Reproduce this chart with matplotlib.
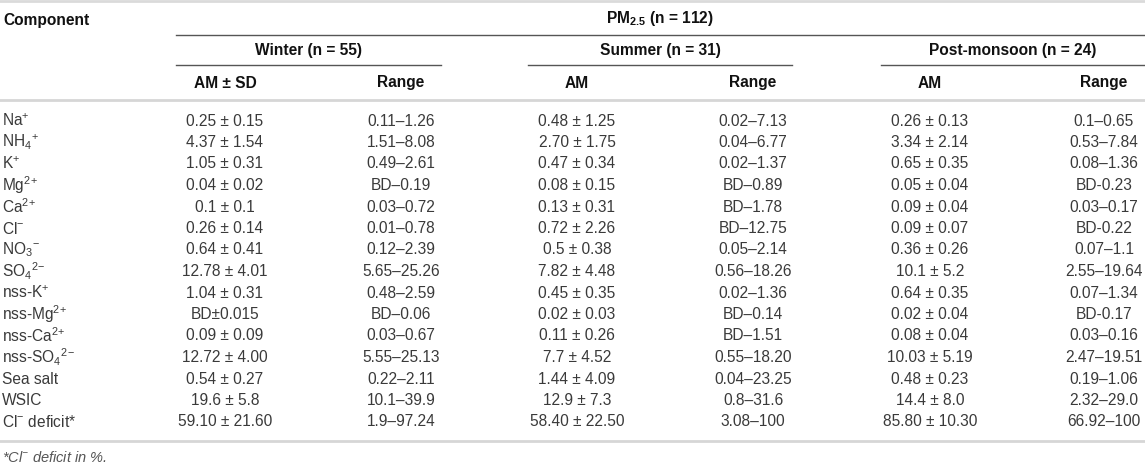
import matplotlib.pyplot as plt

plt.rcParams['font.family'] = ['Liberation Sans', 'DejaVu Sans']
plt.rcParams['mathtext.fontset'] = 'custom'
plt.rcParams['mathtext.rm'] = 'Liberation Sans'
plt.rcParams['mathtext.it'] = 'Liberation Sans:italic'
plt.rcParams['mathtext.bf'] = 'Liberation Sans:bold'
plt.rcParams['mathtext.default'] = 'regular'

# table content
components = ['Na$^{+}$', 'NH$_4$$^{+}$', 'K$^{+}$', 'Mg$^{2}$$^{+}$', 'Ca$^{2}$$^{+}$', 'Cl$^{-}$',
              'NO$_3$$^{-}$', 'SO$_4$$^{2}$$^{-}$', 'nss-K$^{+}$', 'nss-Mg$^{2}$$^{+}$',
              'nss-Ca$^{2}$$^{+}$', 'nss-SO$_4$$^{2}$$^{-}$', 'Sea salt', 'WSIC', 'Cl$^{-}$ deficit*']
winter_am = ['0.25 ± 0.15', '4.37 ± 1.54', '1.05 ± 0.31', '0.04 ± 0.02', '0.1 ± 0.1',
             '0.26 ± 0.14', '0.64 ± 0.41', '12.78 ± 4.01', '1.04 ± 0.31', 'BD±0.015',
             '0.09 ± 0.09', '12.72 ± 4.00', '0.54 ± 0.27', '19.6 ± 5.8', '59.10 ± 21.60']
winter_range = ['0.11–1.26', '1.51–8.08', '0.49–2.61', 'BD–0.19', '0.03–0.72', '0.01–0.78',
                '0.12–2.39', '5.65–25.26', '0.48–2.59', 'BD–0.06', '0.03–0.67', '5.55–25.13',
                '0.22–2.11', '10.1–39.9', '1.9–97.24']
summer_am = ['0.48 ± 1.25', '2.70 ± 1.75', '0.47 ± 0.34', '0.08 ± 0.15', '0.13 ± 0.31',
             '0.72 ± 2.26', '0.5 ± 0.38', '7.82 ± 4.48', '0.45 ± 0.35', '0.02 ± 0.03',
             '0.11 ± 0.26', '7.7 ± 4.52', '1.44 ± 4.09', '12.9 ± 7.3', '58.40 ± 22.50']
summer_range = ['0.02–7.13', '0.04–6.77', '0.02–1.37', 'BD–0.89', 'BD–1.78', 'BD–12.75',
                '0.05–2.14', '0.56–18.26', '0.02–1.36', 'BD–0.14', 'BD–1.51', '0.55–18.20',
                '0.04–23.25', '0.8–31.6', '3.08–100']
post_am = ['0.26 ± 0.13', '3.34 ± 2.14', '0.65 ± 0.35', '0.05 ± 0.04', '0.09 ± 0.04',
           '0.09 ± 0.07', '0.36 ± 0.26', '10.1 ± 5.2', '0.64 ± 0.35', '0.02 ± 0.04',
           '0.08 ± 0.04', '10.03 ± 5.19', '0.48 ± 0.23', '14.4 ± 8.0', '85.80 ± 10.30']
post_range = ['0.1–0.65', '0.53–7.84', '0.08–1.36', 'BD-0.23', '0.03–0.17', 'BD-0.22',
              '0.07–1.1', '2.55–19.64', '0.07–1.34', 'BD-0.17', '0.03–0.16', '2.47–19.51',
              '0.19–1.06', '2.32–29.0', '66.92–100']

groups = ['Winter (n = 55)', 'Summer (n = 31)', 'Post-monsoon (n = 24)']
sub_headers = ['AM ± SD', 'Range', 'AM', 'Range', 'AM', 'Range']

fig = plt.figure(figsize=(11.45, 4.63), dpi=100)
ax = fig.add_axes([0, 0, 1, 1])
ax.set_xlim(0, 1145)
ax.set_ylim(463, 0)
ax.axis('off')

txt = '#3a3a3a'
hdr = '#111111'
fs = 11.2

col_x = [225, 401, 577, 753, 930, 1104]
group_spans = [(176, 441), (528, 792), (881, 1145)]

# rules
ax.plot([0, 1145], [1, 1], color='#dadada', lw=2)
ax.plot([176, 1145], [34.5, 34.5], color='#555555', lw=1)
for x0, x1 in group_spans:
    ax.plot([x0, x1], [65, 65], color='#555555', lw=1)
ax.plot([0, 1145], [100, 100], color='#d6d6d6', lw=2)
ax.plot([0, 1145], [441, 441], color='#d6d6d6', lw=2)

# header
ax.text(3, 21, 'Component', fontsize=fs, fontweight='bold', color=hdr, va='center')
ax.text(660, 18, r'$\mathbf{PM_{2.5}}$ (n = 112)', fontsize=fs, fontweight='bold',
        color=hdr, ha='center', va='center')
for (x0, x1), g in zip(group_spans, groups):
    ax.text((x0 + x1) / 2, 51, g, fontsize=fs, fontweight='bold', color=hdr,
            ha='center', va='center')
for x, h in zip(col_x, sub_headers):
    ax.text(x, 83, h, fontsize=fs, fontweight='bold', color=hdr, ha='center', va='center')

# body
columns = [winter_am, winter_range, summer_am, summer_range, post_am, post_range]
y0, dy = 121, 21.5
for i, comp in enumerate(components):
    y = y0 + i * dy
    ax.text(2, y, comp, fontsize=fs, color=txt, va='center')
    for x, col in zip(col_x, columns):
        ax.text(x, y, col[i], fontsize=fs, color=txt, ha='center', va='center')

ax.text(2, 457, r'*Cl$^{-}$ deficit in %.', fontsize=10.5, style='italic', color='#555555',
        va='center')

fig.savefig('out.png', dpi=100)
